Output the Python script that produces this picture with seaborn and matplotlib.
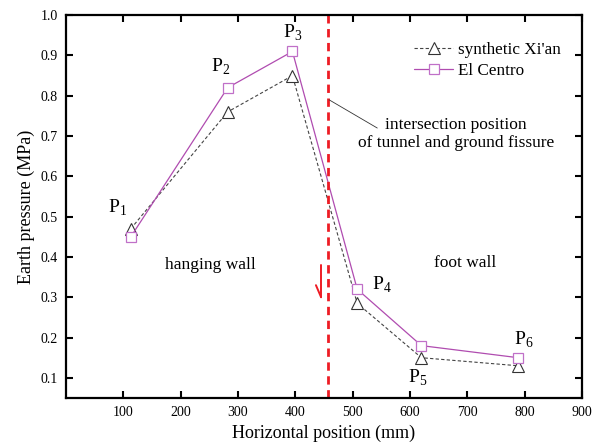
import numpy as np
import pandas as pd
import matplotlib
matplotlib.use('Agg')
import matplotlib.pyplot as plt
import seaborn as sns

# positions of the measuring points (mm)
positions = [113, 282, 395, 508, 620, 789]
xian_pressure = [0.47, 0.76, 0.85, 0.285, 0.15, 0.13]
elcentro_pressure = [0.45, 0.82, 0.91, 0.32, 0.18, 0.15]
point_labels = ['1', '2', '3', '4', '5', '6']
label_x = [89, 269, 395, 551, 614, 799]
label_y = [0.522, 0.871, 0.955, 0.332, 0.10, 0.195]
fissure_x = 457
x_ticks = [100, 200, 300, 400, 500, 600, 700, 800, 900]
y_ticks = [0.1, 0.2, 0.3, 0.4, 0.5, 0.6, 0.7, 0.8, 0.9, 1.0]

df = pd.DataFrame({
    'x': positions * 2,
    'p': xian_pressure + elcentro_pressure,
    'wave': ["synthetic Xi'an"] * 6 + ['El Centro'] * 6,
})

sns.set_style('ticks')
plt.rcParams['font.family'] = ['Liberation Serif', 'DejaVu Serif']
plt.rcParams['mathtext.fontset'] = 'custom'
plt.rcParams['mathtext.rm'] = 'Liberation Serif'
plt.rcParams['text.color'] = 'black'
plt.rcParams['axes.labelcolor'] = 'black'
plt.rcParams['xtick.color'] = 'black'
plt.rcParams['ytick.color'] = 'black'

fig = plt.figure(figsize=(6.03, 4.47), dpi=100)
ax = fig.add_axes([0.1095, 0.1096, 0.8555, 0.8564])

purple = '#b04cb0'
sns.lineplot(data=df[df['wave'] == "synthetic Xi'an"], x='x', y='p', ax=ax,
             color='#444444', linestyle=(0, (3, 2)), linewidth=0.8,
             marker='^', markersize=8, markerfacecolor='white',
             markeredgecolor='#333333', markeredgewidth=0.8,
             label="synthetic Xi'an")
sns.lineplot(data=df[df['wave'] == 'El Centro'], x='x', y='p', ax=ax,
             color=purple, linewidth=0.9,
             marker='s', markersize=7, markerfacecolor='white',
             markeredgecolor='#c070c8', markeredgewidth=0.9,
             label='El Centro')

ax.axvline(fissure_x, color='#ee1c24', linestyle=(0, (3, 2)), linewidth=2)

# small red arrow (slip direction)
ax.plot([445, 445], [0.38, 0.30], color='#ee1c24', linewidth=1.4)
ax.plot([436, 445], [0.33, 0.30], color='#ee1c24', linewidth=1.4)

for lx, ly, lab in zip(label_x, label_y, point_labels):
    ax.text(lx, ly, 'P$_\\mathregular{' + lab + '}$', fontsize=14,
            ha='center', va='center')

ax.text(251, 0.38, 'hanging wall', fontsize=12.5, ha='center', va='center')
ax.text(697, 0.386, 'foot wall', fontsize=12.5, ha='center', va='center')
ax.text(680, 0.705, 'intersection position\nof tunnel and ground fissure',
        fontsize=12.5, ha='center', va='center', linespacing=1.1)
ax.plot([459, 543], [0.79, 0.72], color='#333333', linewidth=0.6)

ax.set_xlim(0, 900)
ax.set_ylim(0.05, 1.0)
ax.set_xticks(x_ticks)
ax.set_yticks(y_ticks)
ax.set_yticklabels([f'{v:.1f}' for v in y_ticks])
ax.tick_params(direction='in', length=5, width=1.5, labelsize=10,
               top=True, right=True, pad=6)
for s in ax.spines.values():
    s.set_linewidth(1.6)
    s.set_color('black')
    s.set_visible(True)

ax.set_xlabel('Horizontal position (mm)', fontsize=13)
ax.set_ylabel('Earth pressure (MPa)', fontsize=13)

ax.legend(loc='upper right', bbox_to_anchor=(0.99, 0.97), frameon=False,
          fontsize=12.3, handlelength=2.3, handletextpad=0.3, labelspacing=0.3)

fig.savefig('out.png', dpi=100)
